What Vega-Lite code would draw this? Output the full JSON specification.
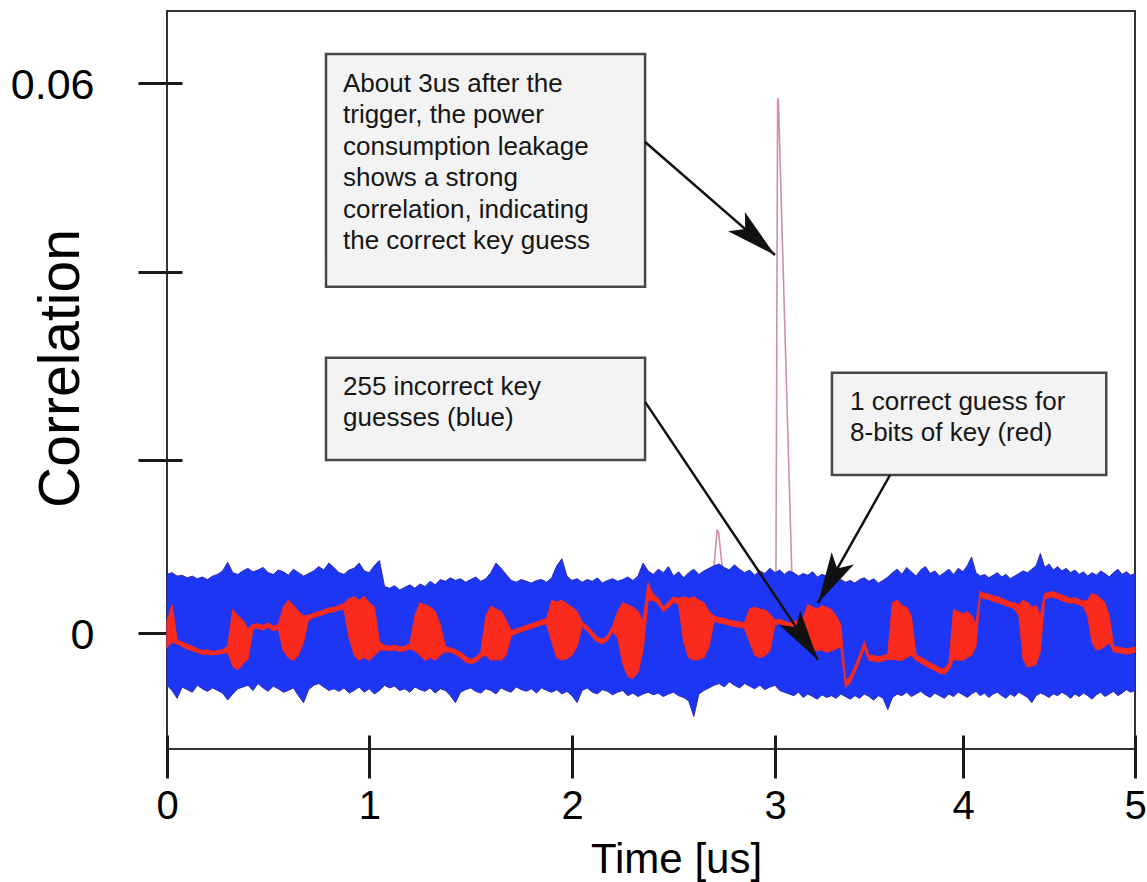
{
  "$schema": "https://vega.github.io/schema/vega-lite/v6.json",
  "width": 968,
  "height": 738,
  "autosize": {"type": "none"},
  "padding": {"left": 167, "top": 11, "right": 12, "bottom": 133},
  "background": "white",
  "config": {
    "font": "Liberation Sans",
    "view": {"stroke": "#333333", "strokeWidth": 2}
  },
  "datasets": {
    "trace": [
      {"t":0.000,"bh":0.0068,"bl":-0.0060,"rh":0.0013,"rl":-0.0016},
      {"t":0.025,"bh":0.0070,"bl":-0.0066,"rh":0.0033,"rl":-0.0010},
      {"t":0.050,"bh":0.0066,"bl":-0.0075,"rh":-0.0008,"rl":-0.0012},
      {"t":0.075,"bh":0.0067,"bl":-0.0062,"rh":-0.0010,"rl":-0.0015},
      {"t":0.100,"bh":0.0064,"bl":-0.0065,"rh":-0.0013,"rl":-0.0018},
      {"t":0.125,"bh":0.0066,"bl":-0.0068,"rh":-0.0015,"rl":-0.0020},
      {"t":0.150,"bh":0.0063,"bl":-0.0060,"rh":-0.0018,"rl":-0.0022},
      {"t":0.175,"bh":0.0065,"bl":-0.0064,"rh":-0.0020,"rl":-0.0024},
      {"t":0.200,"bh":0.0062,"bl":-0.0067,"rh":-0.0019,"rl":-0.0024},
      {"t":0.225,"bh":0.0066,"bl":-0.0063,"rh":-0.0021,"rl":-0.0025},
      {"t":0.250,"bh":0.0068,"bl":-0.0066,"rh":-0.0020,"rl":-0.0024},
      {"t":0.275,"bh":0.0072,"bl":-0.0069,"rh":-0.0019,"rl":-0.0023},
      {"t":0.300,"bh":0.0082,"bl":-0.0077,"rh":-0.0015,"rl":-0.0022},
      {"t":0.325,"bh":0.0070,"bl":-0.0070,"rh":0.0027,"rl":-0.0038},
      {"t":0.350,"bh":0.0068,"bl":-0.0064,"rh":0.0020,"rl":-0.0042},
      {"t":0.375,"bh":0.0072,"bl":-0.0062,"rh":0.0015,"rl":-0.0035},
      {"t":0.400,"bh":0.0075,"bl":-0.0060,"rh":0.0005,"rl":-0.0030},
      {"t":0.425,"bh":0.0071,"bl":-0.0066,"rh":0.0010,"rl":0.0005},
      {"t":0.450,"bh":0.0073,"bl":-0.0058,"rh":0.0011,"rl":0.0006},
      {"t":0.475,"bh":0.0076,"bl":-0.0063,"rh":0.0009,"rl":0.0004},
      {"t":0.500,"bh":0.0070,"bl":-0.0067,"rh":0.0012,"rl":0.0007},
      {"t":0.525,"bh":0.0068,"bl":-0.0061,"rh":0.0008,"rl":0.0003},
      {"t":0.550,"bh":0.0073,"bl":-0.0064,"rh":0.0010,"rl":0.0005},
      {"t":0.575,"bh":0.0071,"bl":-0.0068,"rh":0.0030,"rl":-0.0020},
      {"t":0.600,"bh":0.0067,"bl":-0.0066,"rh":0.0038,"rl":-0.0028},
      {"t":0.625,"bh":0.0074,"bl":-0.0063,"rh":0.0032,"rl":-0.0031},
      {"t":0.650,"bh":0.0070,"bl":-0.0072,"rh":0.0025,"rl":-0.0025},
      {"t":0.675,"bh":0.0066,"bl":-0.0080,"rh":0.0020,"rl":-0.0010},
      {"t":0.700,"bh":0.0069,"bl":-0.0065,"rh":0.0021,"rl":0.0016},
      {"t":0.725,"bh":0.0072,"bl":-0.0060,"rh":0.0023,"rl":0.0018},
      {"t":0.750,"bh":0.0077,"bl":-0.0058,"rh":0.0025,"rl":0.0020},
      {"t":0.775,"bh":0.0073,"bl":-0.0062,"rh":0.0027,"rl":0.0022},
      {"t":0.800,"bh":0.0081,"bl":-0.0066,"rh":0.0029,"rl":0.0024},
      {"t":0.825,"bh":0.0076,"bl":-0.0064,"rh":0.0030,"rl":0.0025},
      {"t":0.850,"bh":0.0070,"bl":-0.0067,"rh":0.0032,"rl":0.0027},
      {"t":0.875,"bh":0.0068,"bl":-0.0063,"rh":0.0034,"rl":0.0028},
      {"t":0.900,"bh":0.0073,"bl":-0.0069,"rh":0.0040,"rl":-0.0005},
      {"t":0.925,"bh":0.0075,"bl":-0.0066,"rh":0.0042,"rl":-0.0025},
      {"t":0.950,"bh":0.0081,"bl":-0.0062,"rh":0.0038,"rl":-0.0031},
      {"t":0.975,"bh":0.0072,"bl":-0.0068,"rh":0.0042,"rl":-0.0028},
      {"t":1.000,"bh":0.0070,"bl":-0.0064,"rh":0.0035,"rl":-0.0031},
      {"t":1.025,"bh":0.0078,"bl":-0.0070,"rh":0.0030,"rl":-0.0025},
      {"t":1.050,"bh":0.0084,"bl":-0.0066,"rh":-0.0010,"rl":-0.0020},
      {"t":1.075,"bh":0.0054,"bl":-0.0060,"rh":-0.0014,"rl":-0.0019},
      {"t":1.100,"bh":0.0052,"bl":-0.0063,"rh":-0.0015,"rl":-0.0020},
      {"t":1.125,"bh":0.0055,"bl":-0.0061,"rh":-0.0014,"rl":-0.0019},
      {"t":1.150,"bh":0.0050,"bl":-0.0066,"rh":-0.0016,"rl":-0.0021},
      {"t":1.175,"bh":0.0053,"bl":-0.0064,"rh":-0.0015,"rl":-0.0020},
      {"t":1.200,"bh":0.0056,"bl":-0.0068,"rh":-0.0012,"rl":-0.0018},
      {"t":1.225,"bh":0.0052,"bl":-0.0062,"rh":0.0020,"rl":-0.0020},
      {"t":1.250,"bh":0.0057,"bl":-0.0065,"rh":0.0035,"rl":-0.0025},
      {"t":1.275,"bh":0.0054,"bl":-0.0067,"rh":0.0033,"rl":-0.0031},
      {"t":1.300,"bh":0.0060,"bl":-0.0063,"rh":0.0030,"rl":-0.0028},
      {"t":1.325,"bh":0.0056,"bl":-0.0069,"rh":0.0025,"rl":-0.0031},
      {"t":1.350,"bh":0.0062,"bl":-0.0064,"rh":0.0010,"rl":-0.0025},
      {"t":1.375,"bh":0.0060,"bl":-0.0066,"rh":-0.0015,"rl":-0.0021},
      {"t":1.400,"bh":0.0064,"bl":-0.0072,"rh":-0.0017,"rl":-0.0022},
      {"t":1.425,"bh":0.0061,"bl":-0.0080,"rh":-0.0019,"rl":-0.0024},
      {"t":1.450,"bh":0.0063,"bl":-0.0068,"rh":-0.0022,"rl":-0.0028},
      {"t":1.475,"bh":0.0059,"bl":-0.0065,"rh":-0.0027,"rl":-0.0033},
      {"t":1.500,"bh":0.0062,"bl":-0.0063,"rh":-0.0030,"rl":-0.0035},
      {"t":1.525,"bh":0.0065,"bl":-0.0067,"rh":-0.0028,"rl":-0.0033},
      {"t":1.550,"bh":0.0060,"bl":-0.0069,"rh":-0.0022,"rl":-0.0028},
      {"t":1.575,"bh":0.0063,"bl":-0.0064,"rh":0.0020,"rl":-0.0025},
      {"t":1.600,"bh":0.0070,"bl":-0.0066,"rh":0.0031,"rl":-0.0031},
      {"t":1.625,"bh":0.0081,"bl":-0.0070,"rh":0.0028,"rl":-0.0030},
      {"t":1.650,"bh":0.0075,"bl":-0.0063,"rh":0.0025,"rl":-0.0031},
      {"t":1.675,"bh":0.0068,"bl":-0.0066,"rh":0.0015,"rl":-0.0025},
      {"t":1.700,"bh":0.0061,"bl":-0.0068,"rh":0.0003,"rl":-0.0003},
      {"t":1.725,"bh":0.0059,"bl":-0.0062,"rh":0.0005,"rl":0.0000},
      {"t":1.750,"bh":0.0062,"bl":-0.0065,"rh":0.0007,"rl":0.0002},
      {"t":1.775,"bh":0.0060,"bl":-0.0067,"rh":0.0009,"rl":0.0004},
      {"t":1.800,"bh":0.0058,"bl":-0.0064,"rh":0.0011,"rl":0.0006},
      {"t":1.825,"bh":0.0061,"bl":-0.0069,"rh":0.0013,"rl":0.0008},
      {"t":1.850,"bh":0.0062,"bl":-0.0063,"rh":0.0015,"rl":0.0010},
      {"t":1.875,"bh":0.0059,"bl":-0.0066,"rh":0.0017,"rl":0.0011},
      {"t":1.900,"bh":0.0064,"bl":-0.0068,"rh":0.0038,"rl":-0.0010},
      {"t":1.925,"bh":0.0078,"bl":-0.0065,"rh":0.0036,"rl":-0.0028},
      {"t":1.950,"bh":0.0086,"bl":-0.0070,"rh":0.0038,"rl":-0.0031},
      {"t":1.975,"bh":0.0066,"bl":-0.0067,"rh":0.0034,"rl":-0.0029},
      {"t":2.000,"bh":0.0061,"bl":-0.0072,"rh":0.0030,"rl":-0.0025},
      {"t":2.025,"bh":0.0063,"bl":-0.0080,"rh":0.0025,"rl":-0.0015},
      {"t":2.050,"bh":0.0059,"bl":-0.0066,"rh":0.0013,"rl":0.0008},
      {"t":2.075,"bh":0.0062,"bl":-0.0063,"rh":0.0008,"rl":0.0003},
      {"t":2.100,"bh":0.0060,"bl":-0.0068,"rh":0.0002,"rl":-0.0004},
      {"t":2.125,"bh":0.0064,"bl":-0.0070,"rh":-0.0005,"rl":-0.0010},
      {"t":2.150,"bh":0.0058,"bl":-0.0065,"rh":-0.0007,"rl":-0.0012},
      {"t":2.175,"bh":0.0061,"bl":-0.0067,"rh":-0.0003,"rl":-0.0008},
      {"t":2.200,"bh":0.0063,"bl":-0.0071,"rh":0.0008,"rl":0.0002},
      {"t":2.225,"bh":0.0060,"bl":-0.0068,"rh":0.0025,"rl":-0.0005},
      {"t":2.250,"bh":0.0062,"bl":-0.0066,"rh":0.0035,"rl":-0.0035},
      {"t":2.275,"bh":0.0065,"bl":-0.0072,"rh":0.0033,"rl":-0.0050},
      {"t":2.300,"bh":0.0061,"bl":-0.0069,"rh":0.0030,"rl":-0.0052},
      {"t":2.325,"bh":0.0066,"bl":-0.0073,"rh":0.0025,"rl":-0.0045},
      {"t":2.350,"bh":0.0081,"bl":-0.0070,"rh":0.0015,"rl":-0.0020},
      {"t":2.375,"bh":0.0072,"bl":-0.0068,"rh":0.0058,"rl":0.0038},
      {"t":2.400,"bh":0.0068,"bl":-0.0071,"rh":0.0045,"rl":0.0038},
      {"t":2.425,"bh":0.0074,"bl":-0.0069,"rh":0.0040,"rl":0.0034},
      {"t":2.450,"bh":0.0070,"bl":-0.0073,"rh":0.0030,"rl":0.0025},
      {"t":2.475,"bh":0.0077,"bl":-0.0070,"rh":0.0036,"rl":0.0030},
      {"t":2.500,"bh":0.0066,"bl":-0.0068,"rh":0.0042,"rl":0.0036},
      {"t":2.525,"bh":0.0071,"bl":-0.0072,"rh":0.0040,"rl":0.0034},
      {"t":2.550,"bh":0.0064,"bl":-0.0074,"rh":0.0042,"rl":-0.0010},
      {"t":2.575,"bh":0.0070,"bl":-0.0078,"rh":0.0040,"rl":-0.0028},
      {"t":2.600,"bh":0.0074,"bl":-0.0096,"rh":0.0042,"rl":-0.0031},
      {"t":2.625,"bh":0.0068,"bl":-0.0070,"rh":0.0038,"rl":-0.0030},
      {"t":2.650,"bh":0.0072,"bl":-0.0066,"rh":0.0035,"rl":-0.0028},
      {"t":2.675,"bh":0.0075,"bl":-0.0063,"rh":0.0025,"rl":-0.0015},
      {"t":2.700,"bh":0.0078,"bl":-0.0060,"rh":0.0020,"rl":0.0014},
      {"t":2.725,"bh":0.0080,"bl":-0.0058,"rh":0.0018,"rl":0.0012},
      {"t":2.750,"bh":0.0076,"bl":-0.0062,"rh":0.0017,"rl":0.0011},
      {"t":2.775,"bh":0.0073,"bl":-0.0056,"rh":0.0015,"rl":0.0009},
      {"t":2.800,"bh":0.0079,"bl":-0.0060,"rh":0.0014,"rl":0.0008},
      {"t":2.825,"bh":0.0074,"bl":-0.0063,"rh":0.0013,"rl":0.0007},
      {"t":2.850,"bh":0.0070,"bl":-0.0058,"rh":0.0012,"rl":0.0006},
      {"t":2.875,"bh":0.0073,"bl":-0.0061,"rh":0.0028,"rl":-0.0010},
      {"t":2.900,"bh":0.0067,"bl":-0.0064,"rh":0.0030,"rl":-0.0025},
      {"t":2.925,"bh":0.0072,"bl":-0.0060,"rh":0.0028,"rl":-0.0028},
      {"t":2.950,"bh":0.0069,"bl":-0.0065,"rh":0.0027,"rl":-0.0026},
      {"t":2.975,"bh":0.0075,"bl":-0.0062,"rh":0.0022,"rl":-0.0020},
      {"t":3.000,"bh":0.0070,"bl":-0.0060,"rh":0.0015,"rl":0.0010},
      {"t":3.025,"bh":0.0073,"bl":-0.0066,"rh":0.0016,"rl":0.0011},
      {"t":3.050,"bh":0.0068,"bl":-0.0068,"rh":0.0014,"rl":0.0009},
      {"t":3.075,"bh":0.0072,"bl":-0.0070,"rh":0.0012,"rl":0.0007},
      {"t":3.100,"bh":0.0070,"bl":-0.0072,"rh":0.0013,"rl":0.0008},
      {"t":3.125,"bh":0.0066,"bl":-0.0068,"rh":0.0015,"rl":0.0010},
      {"t":3.150,"bh":0.0069,"bl":-0.0074,"rh":0.0018,"rl":0.0012},
      {"t":3.175,"bh":0.0067,"bl":-0.0070,"rh":0.0033,"rl":-0.0010},
      {"t":3.200,"bh":0.0071,"bl":-0.0073,"rh":0.0030,"rl":-0.0018},
      {"t":3.225,"bh":0.0065,"bl":-0.0076,"rh":0.0028,"rl":-0.0020},
      {"t":3.250,"bh":0.0068,"bl":-0.0071,"rh":0.0032,"rl":-0.0019},
      {"t":3.275,"bh":0.0066,"bl":-0.0074,"rh":0.0030,"rl":-0.0022},
      {"t":3.300,"bh":0.0063,"bl":-0.0072,"rh":0.0027,"rl":-0.0020},
      {"t":3.325,"bh":0.0060,"bl":-0.0075,"rh":0.0020,"rl":-0.0018},
      {"t":3.350,"bh":0.0062,"bl":-0.0070,"rh":0.0010,"rl":-0.0015},
      {"t":3.375,"bh":0.0059,"bl":-0.0073,"rh":-0.0055,"rl":-0.0062},
      {"t":3.400,"bh":0.0061,"bl":-0.0076,"rh":-0.0050,"rl":-0.0057},
      {"t":3.425,"bh":0.0058,"bl":-0.0072,"rh":-0.0038,"rl":-0.0045},
      {"t":3.450,"bh":0.0062,"bl":-0.0075,"rh":-0.0025,"rl":-0.0032},
      {"t":3.475,"bh":0.0064,"bl":-0.0070,"rh":-0.0010,"rl":-0.0017},
      {"t":3.500,"bh":0.0060,"bl":-0.0073,"rh":-0.0025,"rl":-0.0031},
      {"t":3.525,"bh":0.0063,"bl":-0.0077,"rh":-0.0026,"rl":-0.0032},
      {"t":3.550,"bh":0.0058,"bl":-0.0072,"rh":-0.0027,"rl":-0.0033},
      {"t":3.575,"bh":0.0061,"bl":-0.0075,"rh":-0.0026,"rl":-0.0032},
      {"t":3.600,"bh":0.0065,"bl":-0.0088,"rh":-0.0024,"rl":-0.0030},
      {"t":3.625,"bh":0.0070,"bl":-0.0074,"rh":0.0035,"rl":-0.0030},
      {"t":3.650,"bh":0.0074,"bl":-0.0070,"rh":0.0038,"rl":-0.0031},
      {"t":3.675,"bh":0.0068,"bl":-0.0072,"rh":0.0032,"rl":-0.0031},
      {"t":3.700,"bh":0.0076,"bl":-0.0068,"rh":0.0030,"rl":-0.0028},
      {"t":3.725,"bh":0.0071,"bl":-0.0073,"rh":0.0020,"rl":-0.0025},
      {"t":3.750,"bh":0.0066,"bl":-0.0070,"rh":-0.0025,"rl":-0.0031},
      {"t":3.775,"bh":0.0073,"bl":-0.0067,"rh":-0.0028,"rl":-0.0034},
      {"t":3.800,"bh":0.0077,"bl":-0.0071,"rh":-0.0031,"rl":-0.0037},
      {"t":3.825,"bh":0.0069,"bl":-0.0074,"rh":-0.0034,"rl":-0.0040},
      {"t":3.850,"bh":0.0072,"bl":-0.0069,"rh":-0.0037,"rl":-0.0043},
      {"t":3.875,"bh":0.0066,"bl":-0.0072,"rh":-0.0040,"rl":-0.0046},
      {"t":3.900,"bh":0.0070,"bl":-0.0075,"rh":-0.0041,"rl":-0.0047},
      {"t":3.925,"bh":0.0074,"bl":-0.0070,"rh":-0.0035,"rl":-0.0042},
      {"t":3.950,"bh":0.0068,"bl":-0.0073,"rh":0.0027,"rl":-0.0030},
      {"t":3.975,"bh":0.0075,"bl":-0.0068,"rh":0.0025,"rl":-0.0031},
      {"t":4.000,"bh":0.0071,"bl":-0.0071,"rh":0.0022,"rl":-0.0031},
      {"t":4.025,"bh":0.0078,"bl":-0.0074,"rh":0.0025,"rl":-0.0028},
      {"t":4.050,"bh":0.0088,"bl":-0.0070,"rh":0.0020,"rl":-0.0025},
      {"t":4.075,"bh":0.0070,"bl":-0.0067,"rh":0.0010,"rl":-0.0015},
      {"t":4.100,"bh":0.0066,"bl":-0.0072,"rh":0.0048,"rl":0.0042},
      {"t":4.125,"bh":0.0068,"bl":-0.0069,"rh":0.0046,"rl":0.0040},
      {"t":4.150,"bh":0.0064,"bl":-0.0074,"rh":0.0045,"rl":0.0039},
      {"t":4.175,"bh":0.0067,"bl":-0.0070,"rh":0.0043,"rl":0.0037},
      {"t":4.200,"bh":0.0070,"bl":-0.0068,"rh":0.0042,"rl":0.0036},
      {"t":4.225,"bh":0.0065,"bl":-0.0072,"rh":0.0040,"rl":0.0034},
      {"t":4.250,"bh":0.0068,"bl":-0.0075,"rh":0.0038,"rl":0.0032},
      {"t":4.275,"bh":0.0063,"bl":-0.0070,"rh":0.0036,"rl":0.0030},
      {"t":4.300,"bh":0.0066,"bl":-0.0073,"rh":0.0035,"rl":0.0028},
      {"t":4.325,"bh":0.0069,"bl":-0.0068,"rh":0.0033,"rl":0.0020},
      {"t":4.350,"bh":0.0072,"bl":-0.0071,"rh":0.0038,"rl":-0.0030},
      {"t":4.375,"bh":0.0070,"bl":-0.0074,"rh":0.0035,"rl":-0.0039},
      {"t":4.400,"bh":0.0074,"bl":-0.0080,"rh":0.0030,"rl":-0.0038},
      {"t":4.425,"bh":0.0078,"bl":-0.0072,"rh":0.0032,"rl":-0.0036},
      {"t":4.450,"bh":0.0092,"bl":-0.0069,"rh":0.0020,"rl":-0.0020},
      {"t":4.475,"bh":0.0076,"bl":-0.0071,"rh":0.0046,"rl":0.0040},
      {"t":4.500,"bh":0.0080,"bl":-0.0074,"rh":0.0047,"rl":0.0041},
      {"t":4.525,"bh":0.0073,"bl":-0.0070,"rh":0.0048,"rl":0.0042},
      {"t":4.550,"bh":0.0077,"bl":-0.0072,"rh":0.0046,"rl":0.0040},
      {"t":4.575,"bh":0.0072,"bl":-0.0068,"rh":0.0044,"rl":0.0038},
      {"t":4.600,"bh":0.0075,"bl":-0.0071,"rh":0.0042,"rl":0.0036},
      {"t":4.625,"bh":0.0070,"bl":-0.0075,"rh":0.0040,"rl":0.0035},
      {"t":4.650,"bh":0.0073,"bl":-0.0070,"rh":0.0041,"rl":0.0035},
      {"t":4.675,"bh":0.0068,"bl":-0.0073,"rh":0.0039,"rl":0.0033},
      {"t":4.700,"bh":0.0071,"bl":-0.0069,"rh":0.0037,"rl":0.0031},
      {"t":4.725,"bh":0.0066,"bl":-0.0072,"rh":0.0038,"rl":0.0020},
      {"t":4.750,"bh":0.0070,"bl":-0.0076,"rh":0.0046,"rl":-0.0010},
      {"t":4.775,"bh":0.0067,"bl":-0.0071,"rh":0.0044,"rl":-0.0019},
      {"t":4.800,"bh":0.0072,"bl":-0.0068,"rh":0.0040,"rl":-0.0018},
      {"t":4.825,"bh":0.0069,"bl":-0.0073,"rh":0.0035,"rl":-0.0015},
      {"t":4.850,"bh":0.0065,"bl":-0.0070,"rh":0.0020,"rl":-0.0010},
      {"t":4.875,"bh":0.0070,"bl":-0.0067,"rh":-0.0015,"rl":-0.0021},
      {"t":4.900,"bh":0.0074,"bl":-0.0072,"rh":-0.0016,"rl":-0.0022},
      {"t":4.925,"bh":0.0068,"bl":-0.0069,"rh":-0.0017,"rl":-0.0023},
      {"t":4.950,"bh":0.0071,"bl":-0.0065,"rh":-0.0018,"rl":-0.0024},
      {"t":4.975,"bh":0.0067,"bl":-0.0068,"rh":-0.0017,"rl":-0.0023},
      {"t":5.000,"bh":0.0069,"bl":-0.0066,"rh":-0.0016,"rl":-0.0022}
    ],
    "spike": [
      {"g":"peak","t":3.005,"c":0.0065},
      {"g":"peak","t":3.014,"c":0.0584},
      {"g":"peak","t":3.018,"c":0.0582},
      {"g":"peak","t":3.090,"c":0.0065},
      {"g":"bump","t":2.695,"c":0.0065},
      {"g":"bump","t":2.715,"c":0.0119},
      {"g":"bump","t":2.722,"c":0.0117},
      {"g":"bump","t":2.745,"c":0.0065}
    ],
    "notes": [
      {"x1":0.786,"x2":2.36,"y1":0.06311,"y2":0.0384,"tx":0.87,"ty":0.05908,"label":"About 3us after the\ntrigger, the power\nconsumption leakage\nshows a strong\ncorrelation, indicating\nthe correct key guess"},
      {"x1":0.786,"x2":2.36,"y1":0.03085,"y2":0.02,"tx":0.87,"ty":0.02691,"label":"255 incorrect key\nguesses (blue)"},
      {"x1":3.303,"x2":4.833,"y1":0.02926,"y2":0.01827,"tx":3.399,"ty":0.02532,"label":"1 correct guess for\n8-bits of key (red)"}
    ],
    "arrows": [
      {"id":1,"x1":2.36,"y1":0.05377,"x2":3.0,"y2":0.04177},
      {"id":2,"x1":2.36,"y1":0.02617,"x2":3.229,"y2":-0.00308},
      {"id":3,"x1":3.612,"y1":0.01827,"x2":3.229,"y2":0.0035}
    ]
  },
  "layer": [
    {
      "data": {"name": "spike"},
      "mark": {"type": "line", "color": "#c77b9b", "strokeWidth": 1.6, "opacity": 0.85},
      "encoding": {
        "x": {
          "field": "t", "type": "quantitative",
          "scale": {"domain": [0, 1, 2, 3, 4, 5], "range": [0, 202.3, 405, 608, 796, 968], "nice": false, "zero": false},
          "axis": {
            "values": [0, 1, 2, 3, 4, 5], "format": "d", "domain": false, "grid": false, "labelFlush": false,
            "offset": -14, "tickSize": 43, "tickWidth": 3, "tickColor": "#1a1a1a",
            "labelFontSize": 40, "labelColor": "#000000", "labelPadding": 8, "labelFont": "Liberation Sans",
            "title": "Time [us]", "titleFontSize": 42, "titleFontWeight": "normal", "titleColor": "#000000",
            "titleFont": "Liberation Sans", "titleX": 509, "titleY": 137, "titleBaseline": "alphabetic", "titleAlign": "center"
          }
        },
        "y": {
          "field": "c", "type": "quantitative",
          "scale": {"domain": [-0.01335, 0, 0.02, 0.04, 0.06, 0.06768], "range": [738, 622.3, 449, 260.7, 72.3, 0], "nice": false, "zero": false},
          "axis": {
            "values": [0, 0.02, 0.04, 0.06], "format": ".2~f",
            "labelExpr": "datum.value === 0 || datum.value === 0.06 ? datum.label : ''",
            "domain": false, "grid": false, "labelFlush": false,
            "offset": -15, "tickSize": 44, "tickWidth": 3, "tickColor": "#1a1a1a",
            "labelFontSize": 43, "labelColor": "#000000", "labelPadding": 44, "labelFont": "Liberation Sans", "labelOffset": 2,
            "title": "Correlation", "titleFontSize": 57, "titleFontWeight": "normal", "titleColor": "#000000",
            "titleFont": "Liberation Sans", "titleX": -104, "titleY": 357, "titleAngle": -90, "titleBaseline": "alphabetic", "titleAlign": "center"
          }
        },
        "detail": {"field": "g"}
      }
    },
    {
      "data": {"name": "trace"},
      "mark": {"type": "area", "color": "#1c36f4", "stroke": "#2a2ab8", "strokeWidth": 1, "interpolate": "linear"},
      "encoding": {
        "x": {"field": "t", "type": "quantitative"},
        "y": {"field": "bh", "type": "quantitative"},
        "y2": {"field": "bl"}
      }
    },
    {
      "data": {"name": "trace"},
      "mark": {"type": "area", "color": "#fa2a1c", "stroke": "#f02a22", "strokeWidth": 1.2},
      "encoding": {
        "x": {"field": "t", "type": "quantitative"},
        "y": {"field": "rh", "type": "quantitative"},
        "y2": {"field": "rl"}
      }
    },
    {
      "data": {"name": "notes"},
      "mark": {"type": "rect", "fill": "#f3f3f3", "stroke": "#474747", "strokeWidth": 2.5},
      "encoding": {
        "x": {"field": "x1", "type": "quantitative"},
        "x2": {"field": "x2"},
        "y": {"field": "y1", "type": "quantitative"},
        "y2": {"field": "y2"}
      }
    },
    {
      "data": {"name": "notes"},
      "mark": {"type": "text", "align": "left", "baseline": "alphabetic", "fontSize": 26, "lineHeight": 31.5, "lineBreak": "\n", "color": "#161616", "font": "Liberation Sans"},
      "encoding": {
        "x": {"field": "tx", "type": "quantitative"},
        "y": {"field": "ty", "type": "quantitative"},
        "text": {"field": "label"}
      }
    },
    {
      "data": {"name": "arrows"},
      "mark": {"type": "rule", "color": "#111111", "strokeWidth": 2.5},
      "encoding": {
        "x": {"field": "x1", "type": "quantitative"},
        "y": {"field": "y1", "type": "quantitative"},
        "x2": {"field": "x2"},
        "y2": {"field": "y2"}
      }
    },
    {
      "data": {"name": "arrows"},
      "transform": [{"filter": "datum.id === 1"}],
      "mark": {"type": "point", "shape": "M0,0L-0.5,2L0,1.55L0.5,2Z", "filled": true, "color": "#111111", "opacity": 1, "size": 2600, "angle": 131},
      "encoding": {
        "x": {"field": "x2", "type": "quantitative"},
        "y": {"field": "y2", "type": "quantitative"}
      }
    },
    {
      "data": {"name": "arrows"},
      "transform": [{"filter": "datum.id === 2"}],
      "mark": {"type": "point", "shape": "M0,0L-0.5,2L0,1.55L0.5,2Z", "filled": true, "color": "#111111", "opacity": 1, "size": 2600, "angle": 146},
      "encoding": {
        "x": {"field": "x2", "type": "quantitative"},
        "y": {"field": "y2", "type": "quantitative"}
      }
    },
    {
      "data": {"name": "arrows"},
      "transform": [{"filter": "datum.id === 3"}],
      "mark": {"type": "point", "shape": "M0,0L-0.5,2L0,1.55L0.5,2Z", "filled": true, "color": "#111111", "opacity": 1, "size": 2600, "angle": 209},
      "encoding": {
        "x": {"field": "x2", "type": "quantitative"},
        "y": {"field": "y2", "type": "quantitative"}
      }
    }
  ]
}
